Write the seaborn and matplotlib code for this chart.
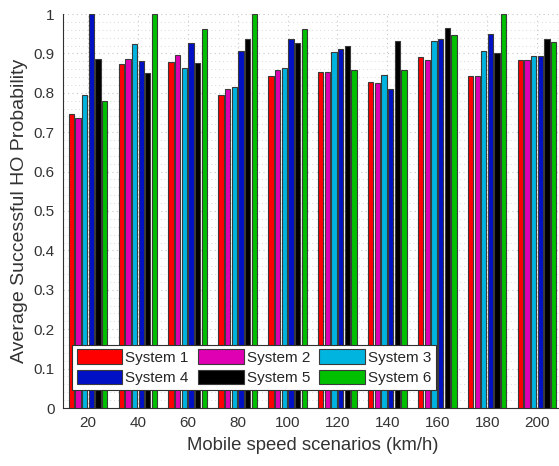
import matplotlib
matplotlib.use("Agg")
import matplotlib.pyplot as plt
from matplotlib.ticker import MultipleLocator
import numpy as np
import pandas as pd
import seaborn as sns

# Mobile speed scenarios (km/h)
speeds = ["20", "40", "60", "80", "100", "120", "140", "160", "180", "200"]
systems = ["System 1", "System 2", "System 3", "System 4", "System 5", "System 6"]

# Average successful handover probability per system and speed
system_1 = [0.747, 0.873, 0.878, 0.794, 0.842, 0.852, 0.828, 0.890, 0.843, 0.882]
system_2 = [0.737, 0.886, 0.896, 0.809, 0.859, 0.854, 0.825, 0.882, 0.843, 0.882]
system_3 = [0.794, 0.924, 0.862, 0.814, 0.862, 0.904, 0.845, 0.931, 0.907, 0.893]
system_4 = [1.000, 0.880, 0.927, 0.906, 0.937, 0.912, 0.810, 0.937, 0.950, 0.893]
system_5 = [0.885, 0.849, 0.876, 0.937, 0.927, 0.919, 0.931, 0.964, 0.900, 0.937]
system_6 = [0.778, 1.000, 0.963, 1.000, 0.963, 0.858, 0.857, 0.946, 1.000, 0.929]

colors = ["#ff0000", "#e000b4", "#00b4e0", "#0010c4", "#000000", "#00c000"]

series = [system_1, system_2, system_3, system_4, system_5, system_6]
rows = []
for name, vals in zip(systems, series):
    for sp, v in zip(speeds, vals):
        rows.append({"speed": sp, "system": name, "prob": v})
df = pd.DataFrame(rows)

sns.set_style("white")
plt.rcParams["font.family"] = ["Liberation Sans", "DejaVu Sans"]

fig = plt.figure(figsize=(5.59, 4.66), dpi=100)
ax = fig.add_axes([63 / 559, 58 / 466, 499 / 559, 394 / 466])

sns.barplot(data=df, x="speed", y="prob", hue="system", order=speeds,
            hue_order=systems, palette=colors, saturation=1, width=0.8, gap=0.2,
            edgecolor="#3a3a3a", linewidth=0.8, ax=ax, zorder=3)

ax.set_xlim(-0.5, 9.5)
ax.set_ylim(0, 1)
ax.yaxis.set_minor_locator(MultipleLocator(0.02))
ax.set_yticks(np.round(np.arange(0, 1.01, 0.1), 1))
ax.set_yticklabels(["0"] + [f"{v:.1f}" for v in np.arange(0.1, 0.95, 0.1)] + ["1"])

ax.grid(True, which="major", axis="both", linestyle=(0, (1, 3)),
        color="#c8c8c8", linewidth=0.8, zorder=0)
ax.grid(True, which="minor", axis="y", linestyle=(0, (1, 3)),
        color="#d8d8d8", linewidth=0.7, zorder=0)
ax.set_axisbelow(True)

for side in ["top", "right"]:
    ax.spines[side].set_visible(False)
for side in ["left", "bottom"]:
    ax.spines[side].set_color("#303030")
    ax.spines[side].set_linewidth(0.8)

ax.tick_params(axis="both", which="major", direction="in", length=4,
               color="#303030", labelsize=11, labelcolor="#333333", pad=6)
ax.tick_params(axis="y", which="minor", length=0)

ax.set_xlabel("Mobile speed scenarios (km/h)", fontsize=13.3, color="#333333", labelpad=5)
ax.set_ylabel("Average Successful HO Probability", fontsize=14, color="#333333", labelpad=4)

handles, labels = ax.get_legend_handles_labels()
order = [0, 3, 1, 4, 2, 5]
leg = ax.legend([handles[i] for i in order], [labels[i] for i in order],
                ncol=3, loc="lower left", bbox_to_anchor=(0.018, 0.046),
                fontsize=11, frameon=True, fancybox=False, framealpha=1,
                edgecolor="#303030", handlelength=3.0, handleheight=1.05,
                handletextpad=0.2, columnspacing=0.6, labelspacing=0.35,
                borderpad=0.3, borderaxespad=0)
leg.get_frame().set_linewidth(0.8)
leg.set_zorder(5)

fig.savefig("out.png", dpi=100)
